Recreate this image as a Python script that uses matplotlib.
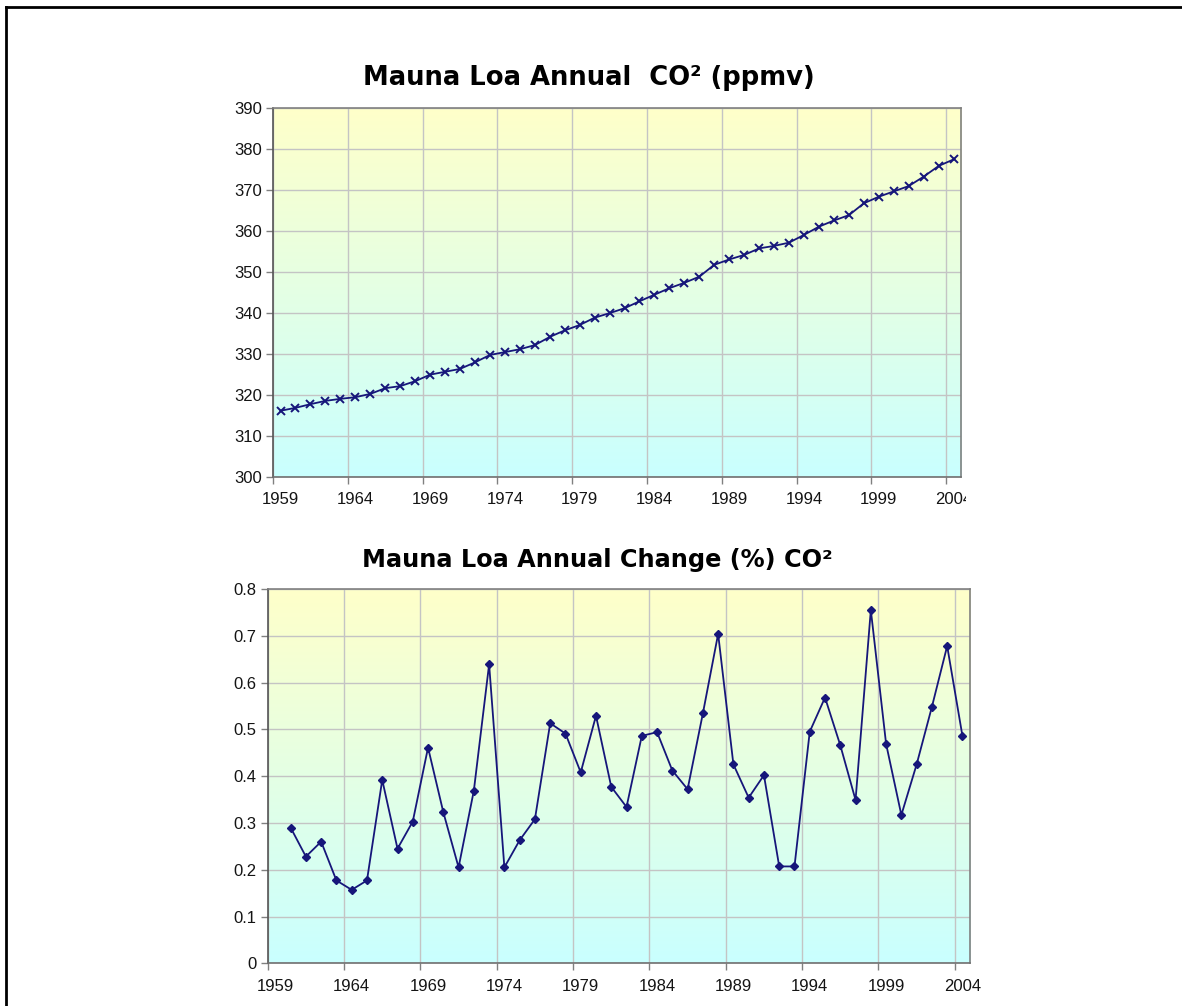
import numpy as np
import matplotlib
matplotlib.use("Agg")
import matplotlib.pyplot as plt
from matplotlib.lines import Line2D
from matplotlib.transforms import Bbox, TransformedBbox

### Data

years = list(range(1959, 2005))
tick_years = [1959, 1964, 1969, 1974, 1979, 1984, 1989, 1994, 1999, 2004]

co2_ppmv = [316.1, 316.8, 317.7, 318.5, 319.0, 319.4, 320.2, 321.6, 322.1, 323.3,
            324.9, 325.6, 326.3, 327.9, 329.7, 330.4, 331.1, 332.1, 334.1, 335.7,
            337.0, 338.8, 339.9, 341.1, 342.8, 344.4, 346.0, 347.3, 348.8, 351.7,
            353.0, 354.1, 355.7, 356.3, 357.1, 359.0, 361.0, 362.5, 363.8, 366.7,
            368.3, 369.6, 370.9, 373.2, 375.8, 377.4]

change_years = list(range(1960, 2005))
change_pct = [0.290, 0.228, 0.260, 0.177, 0.157, 0.177, 0.392, 0.245, 0.303, 0.461,
              0.323, 0.205, 0.369, 0.639, 0.205, 0.263, 0.308, 0.513, 0.491, 0.408,
              0.529, 0.377, 0.334, 0.486, 0.494, 0.412, 0.372, 0.534, 0.704, 0.425,
              0.354, 0.402, 0.207, 0.207, 0.495, 0.568, 0.466, 0.349, 0.755, 0.469,
              0.317, 0.425, 0.548, 0.678, 0.486]

### Style

plt.rcParams["font.family"] = "Liberation Sans"
title_font = "DejaVu Sans"

navy = "#16167a"
grid_col = "#c4c4c4"
spine_col = "#808080"


def category_pos(yr):
    # categories are numbered from 1 for 1959
    return np.array(yr) - 1958


def setup_axes(ax, ymin, ymax, ystep, fmt):
    # yellow-to-cyan background fill
    grad = np.linspace(0, 1, 256).reshape(-1, 1)
    top = np.array([1.0, 1.0, 0.79])
    bot = np.array([0.79, 1.0, 1.0])
    img = top + (bot - top) * grad[:, :, None]
    ax.imshow(img, extent=[0, 1, 0, 1], transform=ax.transAxes,
              aspect="auto", zorder=0, interpolation="bilinear")

    ax.set_xlim(0.5, len(years) + 0.5)
    ax.set_ylim(ymin, ymax)
    yt = np.arange(ymin, ymax + ystep / 2, ystep)
    ax.set_yticks(yt)
    ax.set_yticklabels([fmt(v) for v in yt])

    # tick marks and gridlines sit between categories, labels on categories
    ax.set_xticks(np.arange(0.5, len(years), 5))
    ax.set_xticklabels([])
    ax.set_xticks(category_pos(tick_years), minor=True)
    ax.set_xticklabels([str(y) for y in tick_years], minor=True)
    ax.tick_params(axis="x", which="minor", length=0, pad=11, labelsize=12)
    ax.tick_params(axis="x", which="major", length=5, width=1, color=spine_col)
    ax.tick_params(axis="y", length=5, width=1, color=spine_col, pad=3, labelsize=12)
    for lbl in ax.get_xticklabels(minor=True) + ax.get_yticklabels():
        lbl.set_color("#141414")

    ax.grid(True, which="major", color=grid_col, linewidth=1.0, zorder=1)
    ax.set_axisbelow(True)
    for s in ax.spines.values():
        s.set_color(spine_col)
        s.set_linewidth(1.2)
    ax.spines["left"].set_color("#555555")
    ax.spines["bottom"].set_color("#707070")


fig = plt.figure(figsize=(11.82, 10.06), dpi=100)
fig.patch.set_facecolor("white")

### Annual CO2

ax1 = fig.add_axes([0.2310, 0.5261, 0.5821, 0.3668])
setup_axes(ax1, 300, 390, 10, lambda v: f"{v:.0f}")
ax1.plot(category_pos(years), co2_ppmv, color=navy, linewidth=1.3,
         marker="x", markersize=6, markeredgewidth=1.4, zorder=3)
fig.text(0.4983, 0.9155, "Mauna Loa Annual  CO² (ppmv)", ha="center", va="baseline",
         fontsize=18.6, fontweight="bold", family=title_font)

# the last year label runs past the edge of the chart and is cut off
for lbl in ax1.get_xticklabels(minor=True):
    if lbl.get_text() == "2004":
        lbl.set_clip_on(True)
        lbl.set_clip_box(TransformedBbox(Bbox([[0, 0], [966 / 1182, 1]]), fig.transFigure))

### Annual change

ax2 = fig.add_axes([0.2265, 0.04245, 0.5942, 0.3721])
setup_axes(ax2, 0, 0.8, 0.1, lambda v: "0" if v == 0 else f"{v:.1f}")
ax2.plot(category_pos(change_years), change_pct, color=navy, linewidth=1.3,
         marker="D", markersize=4, zorder=3)
fig.text(0.505, 0.4364, "Mauna Loa Annual Change (%) CO²", ha="center", va="baseline",
         fontsize=17.3, fontweight="bold", family=title_font)

### Frame around the page

fig.add_artist(Line2D([6 / 1182, 6 / 1182], [0, 1 - 7 / 1006], transform=fig.transFigure,
                      color="black", linewidth=2))
fig.add_artist(Line2D([6 / 1182, 1], [1 - 7 / 1006, 1 - 7 / 1006], transform=fig.transFigure,
                      color="black", linewidth=2))

fig.savefig("out.png", dpi=100)
